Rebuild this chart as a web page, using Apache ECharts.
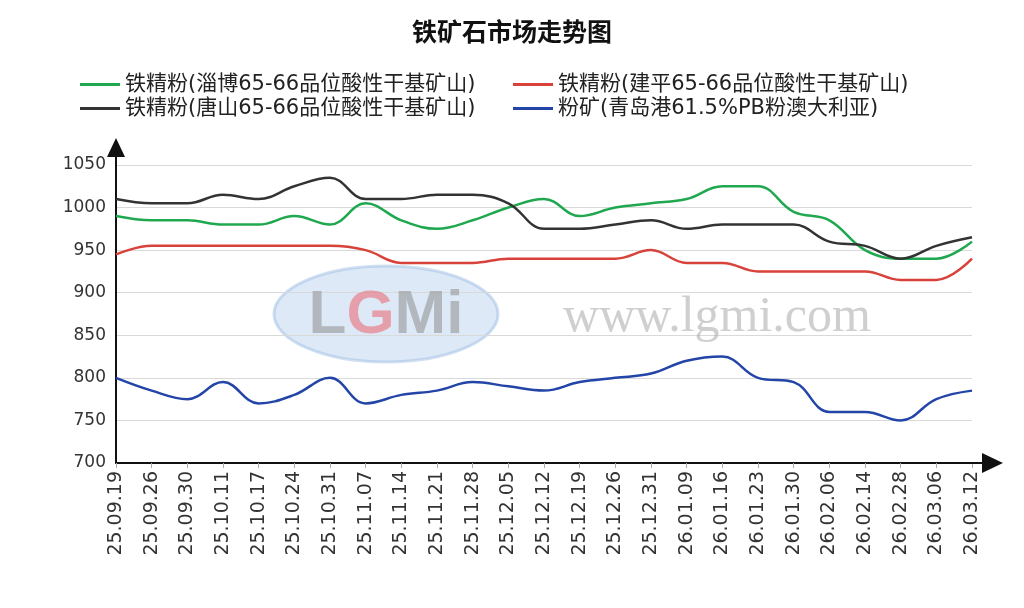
<!DOCTYPE html>
<html>
<head>
<meta charset="utf-8">
<script src="https://cdn.jsdelivr.net/npm/echarts@6/dist/echarts.min.js"></script>
<style>
html,body{margin:0;padding:0;background:#fff;}
#chart{width:1024px;height:608px;}
</style>
</head>
<body>
<div id="chart"></div>
<script>
var titleText = '铁矿石市场走势图';
var categories = ['25.09.19','25.09.26','25.09.30','25.10.11','25.10.17','25.10.24','25.10.31','25.11.07','25.11.14','25.11.21','25.11.28','25.12.05','25.12.12','25.12.19','25.12.26','25.12.31','26.01.09','26.01.16','26.01.23','26.01.30','26.02.06','26.02.14','26.02.28','26.03.06','26.03.12'];
var seriesNames = ['铁精粉(淄博65-66品位酸性干基矿山)','铁精粉(建平65-66品位酸性干基矿山)','铁精粉(唐山65-66品位酸性干基矿山)','粉矿(青岛港61.5%PB粉澳大利亚)'];
var zibo     = [990,985,985,980,980,990,980,1005,985,975,985,1000,1010,990,1000,1005,1010,1025,1025,995,985,950,940,940,960];
var jianping = [945,955,955,955,955,955,955,950,935,935,935,940,940,940,940,950,935,935,925,925,925,925,915,915,940];
var tangshan = [1010,1005,1005,1015,1010,1025,1035,1010,1010,1015,1015,1005,975,975,980,985,975,980,980,980,960,955,940,955,965];
var qingdao  = [800,785,775,795,770,780,800,770,780,785,795,790,785,795,800,805,820,825,800,795,760,760,750,775,785];
var yTicks = [700,750,800,850,900,950,1000,1050];

var colors = ['#1fa84f','#d8423b','#333333','#2445a8'];
var latin = '"DejaVu Sans","Noto Sans CJK SC",sans-serif';

var chart = echarts.init(document.getElementById('chart'));

function mkLine(name, data, color){
  return {
    name: name, type: 'line', data: data, smooth: 0.4, symbol: 'none',
    lineStyle: {width: 2.5, color: color}, itemStyle: {color: color}, z: 3
  };
}

var legendBase = {
  orient: 'vertical', top: 69, itemWidth: 40, itemHeight: 3, itemGap: 3, icon: 'rect',
  textStyle: {fontSize: 21, lineHeight: 21, color: '#222', fontFamily: latin}
};

var option = {
  backgroundColor: '#fff',
  animation: false,
  color: colors,
  title: {
    text: titleText, left: 'center', top: 14,
    textStyle: {fontSize: 25, fontWeight: 'bold', color: '#111', fontFamily: '"Noto Sans CJK SC",sans-serif'}
  },
  legend: [
    Object.assign({}, legendBase, {left: 75, data: [seriesNames[0], seriesNames[2]]}),
    Object.assign({}, legendBase, {left: 508, data: [seriesNames[1], seriesNames[3]]})
  ],
  grid: {left: 116, right: 52, top: 159, bottom: 145, containLabel: false},
  xAxis: {
    type: 'category', data: categories, boundaryGap: false,
    axisLine: {
      lineStyle: {color: '#111', width: 2},
      symbol: ['none', 'path://M10 0 L20 21 L11 21 L11 31 L9 31 L9 21 L0 21 Z'],
      symbolSize: [20, 31], symbolOffset: [0, 15.5]
    },
    axisTick: {show: true, length: 5, lineStyle: {color: '#aaa', width: 1}},
    axisLabel: {rotate: 90, fontSize: 19, color: '#333', margin: 8, interval: 0, fontFamily: latin},
    splitLine: {show: false}
  },
  yAxis: {
    type: 'value', min: 700, max: 1057, interval: 50,
    axisLine: {
      show: true,
      lineStyle: {color: '#111', width: 2},
      symbol: ['none', 'path://M9 0 L18 19 L10 19 L10 21 L8 21 L8 19 L0 19 Z'],
      symbolSize: [18, 21], symbolOffset: [0, 10.5]
    },
    axisTick: {show: false},
    axisLabel: {
      fontSize: 17, color: '#333', margin: 10, fontFamily: latin, showMaxLabel: false,
      formatter: function(v){ return yTicks.indexOf(v) >= 0 ? String(v) : ''; }
    },
    splitLine: {show: true, showMaxLine: false, lineStyle: {color: '#d9d9d9', width: 1.2}}
  },
  graphic: [
    {
      type: 'ellipse', z: 0, silent: true,
      shape: {cx: 386, cy: 314, rx: 112, ry: 48},
      style: {fill: 'rgba(170,200,235,0.4)', stroke: 'rgba(150,185,225,0.45)', lineWidth: 3}
    },
    {
      type: 'text', z: 1, silent: true, x: 386, y: 316,
      style: {
        text: '{a|L}{b|G}{a|Mi}', align: 'center', verticalAlign: 'middle',
        rich: {
          a: {fontSize: 62, fontWeight: 'bold', fill: 'rgba(150,150,150,0.6)', fontFamily: '"Liberation Sans",sans-serif'},
          b: {fontSize: 62, fontWeight: 'bold', fill: 'rgba(235,110,120,0.6)', fontFamily: '"Liberation Sans",sans-serif'}
        }
      }
    },
    {
      type: 'text', z: 1, silent: true, x: 717, y: 318,
      style: {
        text: 'www.lgmi.com', align: 'center', verticalAlign: 'middle',
        fontSize: 50, fill: 'rgba(175,175,175,0.6)', fontFamily: '"Liberation Serif",serif'
      }
    }
  ],
  series: [
    mkLine(seriesNames[0], zibo, colors[0]),
    mkLine(seriesNames[1], jianping, colors[1]),
    mkLine(seriesNames[2], tangshan, colors[2]),
    mkLine(seriesNames[3], qingdao, colors[3])
  ]
};
chart.setOption(option);
</script>
</body>
</html>
